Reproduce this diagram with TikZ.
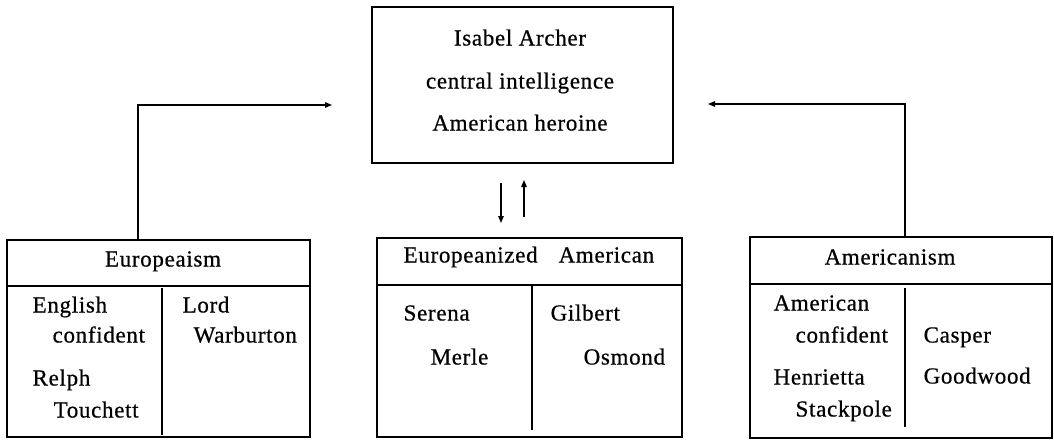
\documentclass[tikz,border=0pt]{standalone}
\usepackage{fontspec}
\setmainfont{Liberation Serif}[LetterSpace=3,FakeBold=0.6]
\usetikzlibrary{arrows.meta,calc}
\begin{document}
\begin{tikzpicture}[x=1pt,y=-1pt,
  line width=1.3pt,
  box/.style={draw, line width=1.3pt, inner sep=0pt},
  txt/.style={inner sep=0pt, anchor=west, text height=0.7em, text depth=0.2em, font=\fontsize{23}{27}\selectfont},
  ctxt/.style={txt, anchor=center},
  arr/.style={-{Triangle[length=7pt,width=5.5pt]}, line width=1.3pt}]
\useasboundingbox (0,0) rectangle (1054,439);
% boxes
\node[box, minimum width=301pt, minimum height=156pt] (top) at (522.5,85) {};
\node[box, minimum width=303pt, minimum height=197pt] (lbox) at (158.5,338.5) {};
\node[box, minimum width=305pt, minimum height=199pt] (mbox) at (529.5,337.5) {};
\node[box, minimum width=302pt, minimum height=201pt] (rbox) at (901,337.5) {};
% header lines and dividers
\draw (lbox.west |- 0,286) -- (lbox.east |- 0,286);
\draw (162,288) -- (162,435);
\draw (mbox.west |- 0,285) -- (mbox.east |- 0,285);
\draw (532,285) -- (532,430);
\draw (rbox.west |- 0,284) -- (rbox.east |- 0,284);
\draw (905,288) -- (905,427);
% top texts
\node[ctxt] (t1) at (520,43) {Isabel Archer};
\node[ctxt] (t2) at (520,86) {central intelligence};
\node[ctxt] (t3) at (520,128) {American heroine};
% left box
\node[ctxt] (lh) at (163,264) {Europeaism};
\node[txt] (l1) at (32,310) {English};
\node[txt] (l2) at (52,340) {confident};
\node[txt] (l3) at (32,383) {Relph};
\node[txt] (l4) at (53,415) {Touchett};
\node[txt] (l5) at (182,310) {Lord};
\node[txt] (l6) at (193,340) {Warburton};
% middle box
\node[txt] (mh1) at (403,260) {Europeanized};
\node[txt] (mh2) at (558,260) {American};
\node[txt] (m1) at (403,318) {Serena};
\node[txt] (m2) at (430,362) {Merle};
\node[txt] (m3) at (550,318) {Gilbert};
\node[txt] (m4) at (583,362) {Osmond};
% right box
\node[ctxt] (rh) at (890,262) {Americanism};
\node[txt] (r1) at (773,308) {American};
\node[txt] (r2) at (795,340) {confident};
\node[txt] (r3) at (773,382) {Henrietta};
\node[txt] (r4) at (795,414) {Stackpole};
\node[txt] (r5) at (923,340) {Casper};
\node[txt] (r6) at (923,381) {Goodwood};
% connectors
\coordinate (lx) at (138,105);
\coordinate (la) at (332,105);
\draw[arr] (lbox.north -| lx) -- (lx) -- (la);
\coordinate (rx) at (905,104);
\coordinate (ra) at (708,104);
\draw[arr] (rbox.north -| rx) -- (rx) -- (ra);
\coordinate (d1) at (501,183);
\coordinate (d2) at (501,223);
\draw[arr] (d1) -- (d2);
\coordinate (u1) at (524,217);
\coordinate (u2) at (524,180);
\draw[arr] (u1) -- (u2);
\end{tikzpicture}
\end{document}
